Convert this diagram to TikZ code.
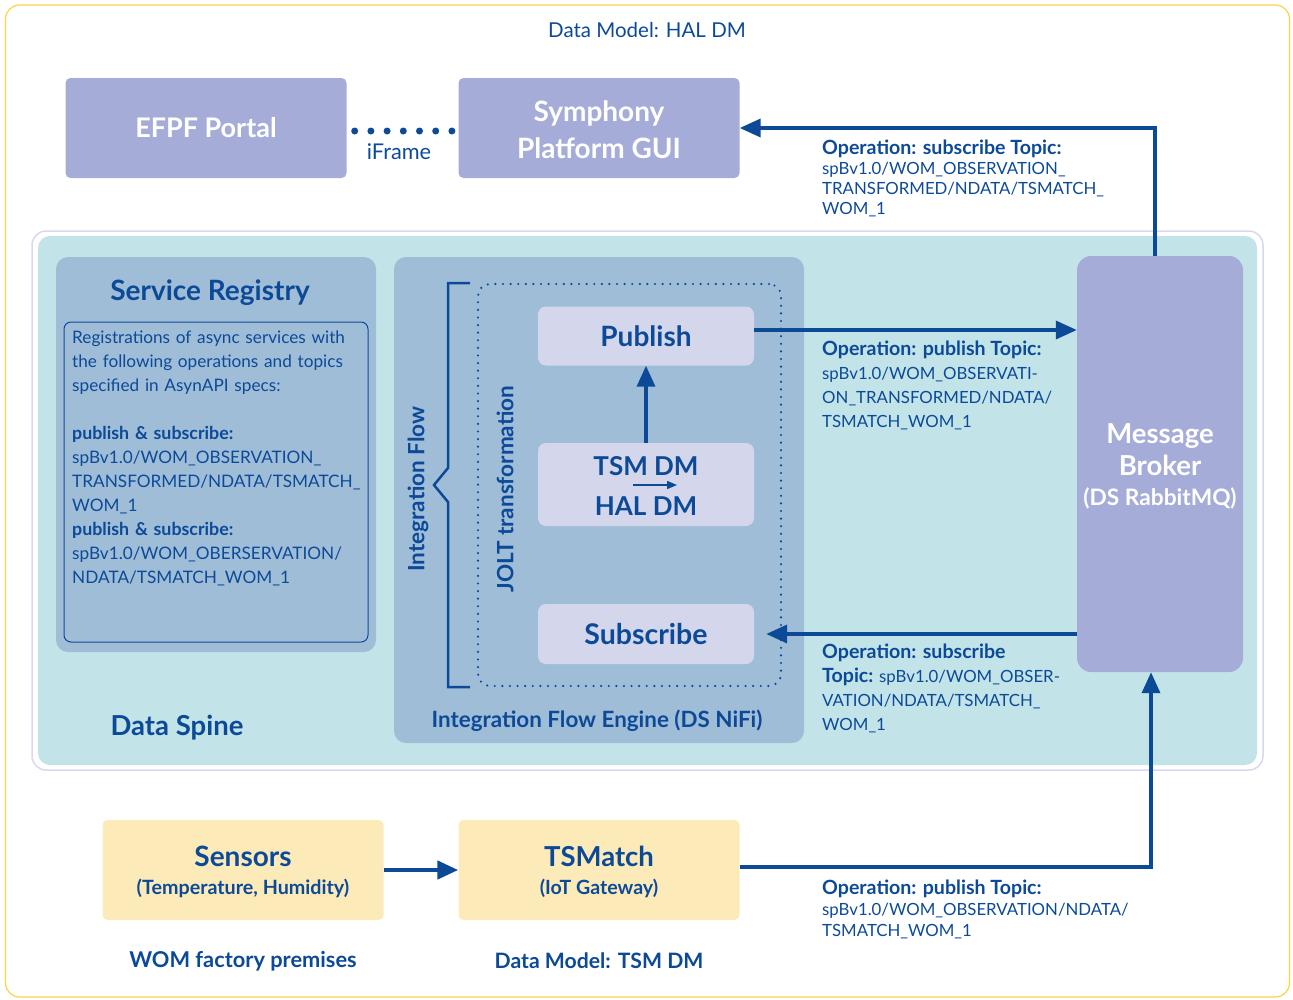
\documentclass[tikz,border=0pt]{standalone}
\usepackage{fontspec}
\setmainfont{Lato}
\usetikzlibrary{arrows.meta}
\definecolor{dblue}{RGB}{12,74,152}
\definecolor{outery}{RGB}{250,212,70}
\definecolor{spineb}{RGB}{215,218,238}
\definecolor{spinef}{RGB}{194,227,232}
\definecolor{steel}{RGB}{160,189,216}
\definecolor{lav}{RGB}{212,214,236}
\definecolor{purp}{RGB}{165,172,216}
\definecolor{ylw}{RGB}{253,234,185}
\newcommand\myfs[2]{\fontsize{#1}{#2}\selectfont}
\newcommand\ophead[1]{{\fontsize{19.6}{20}\selectfont\bfseries #1}}
\newcommand\srhead[1]{{\fontsize{17.8}{20}\selectfont\bfseries #1}}
\tikzset{
  box/.style={rectangle, rounded corners=7pt, inner sep=0pt, align=center},
  conn/.style={draw=dblue, line width=3.6pt, -{Triangle[length=21pt,width=18pt]}},
  lbl/.style={anchor=north west, inner sep=0pt, align=left, text=dblue},
}
\begin{document}
\begin{tikzpicture}[x=1pt,y=-1pt]
\useasboundingbox (0,0) rectangle (1293,999);
% outer frame
\node[box, draw=outery, line width=1.2pt, rounded corners=14pt, minimum width=1284pt, minimum height=992pt] (frame) at (647.5,501) {};
\node[text=dblue, font=\myfs{20.5}{24}] (haldm) at (647,30) {Data Model: HAL DM};
% data spine
\node[box, draw=spineb, fill=white, line width=1.5pt, rounded corners=14pt, minimum width=1231pt, minimum height=539pt] (spineo) at (647.5,500.5) {};
\node[box, fill=spinef, rounded corners=12pt, minimum width=1219pt, minimum height=529pt] (spine) at (647.5,500.5) {};
\node[text=dblue, font=\bfseries\myfs{27.5}{32}] (dslbl) at (177,728) {Data Spine};
% service registry
\node[box, fill=steel, rounded corners=12pt, minimum width=320pt, minimum height=395pt] (sr) at (216,454.5) {};
\node[text=dblue, font=\bfseries\myfs{28}{32}] (srlbl) at (210,293) {Service Registry};
\node[box, draw=dblue, line width=1pt, minimum width=304pt, minimum height=320pt] (srin) at (216,482) {};
\node[lbl, font=\myfs{17.2}{24}, text width=300pt] (srtext) at (72,331) {Registrations of async services with\\
the following operations and topics\\
specified in AsynAPI specs:\\[24pt]
\srhead{publish \& subscribe:}\\
spBv1.0/WOM\_OBSERVATION\_\\
TRANSFORMED/NDATA/TSMATCH\_\\
WOM\_1\\
\srhead{publish \& subscribe:}\\
spBv1.0/WOM\_OBERSERVATION/\\
NDATA/TSMATCH\_WOM\_1};
% integration flow engine
\node[box, fill=steel, rounded corners=12pt, minimum width=410pt, minimum height=486pt] (ife) at (599,500) {};
\node[text=dblue, font=\bfseries\myfs{22.4}{26}] (ifelbl) at (597,721) {Integration Flow Engine (DS NiFi)};
\draw[dblue, line width=2.5pt] (470,283) -- (448,283) -- (448,468) -- (434,485) -- (448,502) -- (448,687) -- (470,687);
\node[text=dblue, font=\bfseries\myfs{22.5}{26}, rotate=90] (iflbl) at (418,489) {Integration Flow};
\node[box, draw=dblue, line width=2.4pt, dash pattern=on 0pt off 7.6pt, line cap=round, rounded corners=12pt, minimum width=303pt, minimum height=402pt] (jolt) at (629.5,485) {};
\node[text=dblue, font=\bfseries\myfs{22.5}{26}, rotate=90] (joltlbl) at (505,489) {JOLT transformation};
\node[box, fill=lav, rounded corners=8pt, minimum width=216pt, minimum height=59pt, text=dblue, font=\bfseries\myfs{28}{32}] (pub) at (646,336) {Publish};
\node[box, fill=lav, rounded corners=8pt, minimum width=216pt, minimum height=83pt] (tsm) at (646,484.5) {};
\node[text=dblue, font=\bfseries\myfs{26}{30}] (tsmt) at (646,466) {TSM DM};
\node[text=dblue, font=\bfseries\myfs{26}{30}] (halt) at (646,506) {HAL DM};
\coordinate (ta) at (633,485);
\coordinate (tb) at (677,485);
\draw[dblue, line width=1.6pt, -{Triangle[length=10pt,width=8pt]}] (ta) -- (tb);
\node[box, fill=lav, rounded corners=8pt, minimum width=216pt, minimum height=60pt, text=dblue, font=\bfseries\myfs{28.5}{32}] (sub) at (646,634) {Subscribe};
% message broker
\node[box, fill=purp, rounded corners=14pt, minimum width=166pt, minimum height=416pt] (broker) at (1160,464) {};
\node[text=white, font=\bfseries\myfs{27.5}{32}, align=center] (brokert) at (1160,450) {Message\\Broker};
\node[text=white, font=\bfseries\myfs{22.7}{26}] (brokerst) at (1160,498) {(DS RabbitMQ)};
% top boxes
\node[box, fill=purp, rounded corners=5pt, minimum width=281pt, minimum height=100pt, text=white, font=\bfseries\myfs{27}{30}] (efpf) at (206,128) {EFPF Portal};
\node[box, fill=purp, rounded corners=5pt, minimum width=281pt, minimum height=100pt] (sym) at (599,128) {};
\node[text=white, font=\bfseries\myfs{28}{37}, align=center] (symt) at (599,130) {Symphony\\Platform GUI};
\draw[dblue, line width=7pt, line cap=round, dash pattern=on 0pt off 16.2pt, shorten <=8pt, shorten >=3pt] (efpf.east |- 0,131) -- (sym.west |- 0,131);
\node[text=dblue, font=\myfs{21.7}{25}] (iframe) at (399,152) {iFrame};
% bottom boxes
\node[box, fill=ylw, rounded corners=5pt, minimum width=281pt, minimum height=100pt] (sens) at (243,870) {};
\node[text=dblue, font=\bfseries\myfs{28}{32}] (senst) at (243,856) {Sensors};
\node[text=dblue, font=\bfseries\myfs{19.7}{23}] (sensst) at (243,888) {(Temperature, Humidity)};
\node[box, fill=ylw, rounded corners=5pt, minimum width=281pt, minimum height=100pt] (tsmatch) at (599,870) {};
\node[text=dblue, font=\bfseries\myfs{27.5}{32}] (tsmatcht) at (599,856) {TSMatch};
\node[text=dblue, font=\bfseries\myfs{19.6}{23}] (tsmatchst) at (599,888) {(IoT Gateway)};
\node[text=dblue, font=\bfseries\myfs{21.8}{25}] (wom) at (243,961) {WOM factory premises};
\node[text=dblue, font=\bfseries\myfs{21.2}{25}] (tsmdm) at (599,961) {Data Model: TSM DM};
% connectors
\draw[conn] ([xshift=-5pt]broker.north) |- (sym.east);
\draw[conn] ([yshift=6pt]pub.east) -- ([yshift=6pt]pub.east -| broker.west);
\draw[conn] (broker.west |- sub.east) -- ([xshift=12pt]sub.east);
\draw[conn] (tsm.north) -- (pub.south);
\draw[conn, line width=4.4pt] (sens.east) -- (tsmatch.west);
\draw[conn] ([yshift=3pt]tsmatch.east) -| ([xshift=-9pt]broker.south);
% operation labels
\node[lbl, font=\myfs{16.8}{20}] (op1) at (822,140) {\ophead{Operation: subscribe Topic:}\\spBv1.0/WOM\_OBSERVATION\_\\TRANSFORMED/NDATA/TSMATCH\_\\WOM\_1};
\node[lbl, font=\myfs{16.8}{24}] (op2) at (822,341) {\ophead{Operation: publish Topic:}\\spBv1.0/WOM\_OBSERVATI-\\ON\_TRANSFORMED/NDATA/\\TSMATCH\_WOM\_1};
\node[lbl, font=\myfs{16.8}{24}] (op3) at (822,644) {\ophead{Operation: subscribe}\\\ophead{Topic:} spBv1.0/WOM\_OBSER-\\VATION/NDATA/TSMATCH\_\\WOM\_1};
\node[lbl, font=\myfs{16.8}{21}] (op4) at (822,880) {\ophead{Operation: publish Topic:}\\spBv1.0/WOM\_OBSERVATION/NDATA/\\TSMATCH\_WOM\_1};
\end{tikzpicture}
\end{document}
